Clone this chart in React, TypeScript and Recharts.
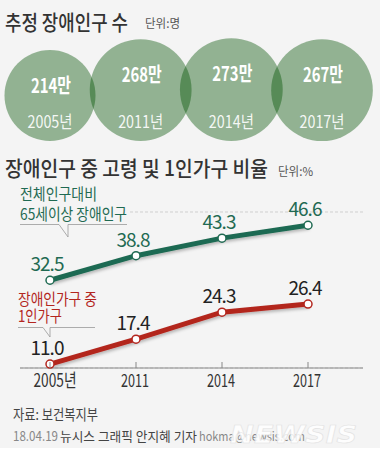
import React from 'react'
import {
  ScatterChart,
  Scatter,
  LineChart,
  Line,
  XAxis,
  YAxis,
  ZAxis,
  CartesianGrid,
  LabelList,
} from 'recharts'

const FONT = '"Noto Sans CJK KR", "Noto Sans", sans-serif'

// 추정 장애인구 수 (만명)
const popYears = ['2005년', '2011년', '2014년', '2017년']
const popValues = [214, 268, 273, 267]

// 장애인구 중 고령 및 1인가구 비율 (%)
const rateYears = ['2005년', '2011', '2014', '2017']
const elderlyRate = [32.5, 38.8, 43.3, 46.6]
const singleRate = [11.0, 17.4, 24.3, 26.4]
const scaleTicks = [0, 10, 20, 30, 40, 50]

const GREEN = '#1f6a52'
const RED = '#b3261e'

const popData = popYears.map((year, i) => ({ year, pop: popValues[i] }))
const rateData = rateYears.map((year, i) => ({
  year,
  elderly: elderlyRate[i],
  single: singleRate[i],
}))

// circle sits on the baseline, area follows the value
function Bubble(props: any) {
  const { cx, cy, size, payload } = props
  const r = Math.sqrt(size / Math.PI)
  return (
    <g>
      <circle cx={cx} cy={cy - r} r={r} fill="#004f00" fillOpacity={0.4} />
      <text
        x={cx + 1}
        y={cy - 2 * r + 43}
        textAnchor="middle"
        fontSize={20}
        fontWeight={700}
        fill="#fff"
        textLength={40}
        lengthAdjust="spacingAndGlyphs"
        fontFamily={FONT}
      >
        {payload.pop}만
      </text>
      <text
        x={cx}
        y={cy - 13}
        textAnchor="middle"
        fontSize={17}
        fill="#fff"
        fillOpacity={0.92}
        textLength={45}
        lengthAdjust="spacingAndGlyphs"
        fontFamily={FONT}
      >
        {payload.year}
      </text>
    </g>
  )
}

function YearTick(props: any) {
  const { x, y, payload } = props
  const label: string = payload.value
  const width = label.length === 5 ? 43 : 28
  return (
    <g>
      <line x1={x} y1={y - 6} x2={x} y2={y} stroke="#888" />
      <text
        x={label.length === 5 ? x + 5 : x - 1}
        y={y + 19}
        textAnchor="middle"
        fontSize={18}
        fill="#333"
        textLength={width}
        lengthAdjust="spacingAndGlyphs"
        fontFamily={FONT}
      >
        {label}
      </text>
    </g>
  )
}

function ScaleTick(props: any) {
  const { x, y, payload } = props
  const label = String(payload.value)
  return (
    <text
      x={x - 4}
      y={y - 1}
      fontSize={15}
      fill="#aaa"
      fontWeight={300}
      textLength={label.length * 5}
      lengthAdjust="spacingAndGlyphs"
      fontFamily={FONT}
    >
      {label}
    </text>
  )
}

function makeValueLabel(color: string) {
  return (props: any) => {
    const { x, y, value } = props
    return (
      <text
        x={x - 3}
        y={y - 9}
        textAnchor="middle"
        fontSize={19}
        letterSpacing={-1}
        fill={color}
        fontFamily={FONT}
      >
        {Number(value).toFixed(1)}
      </text>
    )
  }
}

export default function App() {
  return (
    <div
      style={{
        position: 'relative',
        width: 380,
        height: 462,
        background: '#fff',
        fontFamily: FONT,
      }}
    >
      <style>{'body{margin:0}'}</style>
      <div style={{ position: 'absolute', left: 0, top: 0, width: 380, height: 448, background: '#f4f4f4' }} />

      <svg width={0} height={0} style={{ position: 'absolute' }}>
        <defs>
          <filter id="lineShadow" x="-10%" y="-30%" width="120%" height="160%">
            <feDropShadow dx="1" dy="2" stdDeviation="1.5" floodColor="#000" floodOpacity="0.25" />
          </filter>
        </defs>
      </svg>

      {/* 추정 장애인구 수 */}
      <div style={{ position: 'absolute', left: 0, top: 0 }}>
        <ScatterChart width={380} height={150} margin={{ top: 0, right: 0, bottom: 9, left: 0 }}>
          <XAxis
            dataKey="year"
            type="category"
            scale="point"
            allowDuplicatedCategory={false}
            padding={{ left: 50, right: 58 }}
            hide
          />
          <YAxis dataKey={() => 0} type="number" domain={[0, 1]} hide />
          <ZAxis dataKey="pop" type="number" domain={[0, 300]} range={[0, 9120]} />
          <Scatter data={popData} shape={Bubble} isAnimationActive={false} />
        </ScatterChart>
      </div>

      {/* 장애인구 중 고령 및 1인가구 비율 */}
      <div style={{ position: 'absolute', left: 0, top: 190 }}>
        <LineChart width={380} height={220} data={rateData} margin={{ top: 22, right: 0, bottom: 12, left: 20 }}>
          <CartesianGrid
            yAxisId="scale"
            vertical={false}
            stroke="#cfcfcf"
            strokeDasharray="3 2"
          />
          <XAxis
            dataKey="year"
            scale="point"
            padding={{ left: 30, right: 55 }}
            axisLine={{ stroke: '#888' }}
            tickLine={false}
            tickSize={0}
            tickMargin={0}
            tick={<YearTick />}
            height={30}
          />
          <YAxis yAxisId="rate" domain={[10, 50]} hide />
          <YAxis
            yAxisId="scale"
            orientation="right"
            domain={[0, 50]}
            ticks={scaleTicks}
            axisLine={false}
            tickLine={false}
            tickSize={0}
            tickMargin={0}
            width={17}
            tick={<ScaleTick />}
          />
          <Line
            yAxisId="rate"
            dataKey="elderly"
            stroke={GREEN}
            strokeWidth={5}
            filter="url(#lineShadow)"
            dot={{ r: 4, fill: '#fff', stroke: GREEN, strokeWidth: 1.5, filter: 'none' }}
            isAnimationActive={false}
          >
            <LabelList dataKey="elderly" content={makeValueLabel(GREEN)} />
          </Line>
          <Line
            yAxisId="rate"
            dataKey="single"
            stroke={RED}
            strokeWidth={5}
            filter="url(#lineShadow)"
            dot={{ r: 4, fill: '#fff', stroke: RED, strokeWidth: 1.5, filter: 'none' }}
            isAnimationActive={false}
          >
            <LabelList dataKey="single" content={makeValueLabel('#222')} />
          </Line>
        </LineChart>
      </div>

      {/* titles, notes and credits */}
      <svg
        width={380}
        height={462}
        style={{ position: 'absolute', left: 0, top: 0, pointerEvents: 'none' }}
        fontFamily={FONT}
      >
        <text x={5} y={30} fontSize={21} fontWeight={500} fill="#333" textLength={123} lengthAdjust="spacingAndGlyphs">
          추정 장애인구 수
        </text>
        <text x={145} y={28} fontSize={12} fill="#555" textLength={35} lengthAdjust="spacingAndGlyphs">
          단위:명
        </text>

        <text x={5} y={176} fontSize={21} fontWeight={500} fill="#333" textLength={263} lengthAdjust="spacingAndGlyphs">
          장애인구 중 고령 및 1인가구 비율
        </text>
        <text x={278} y={176} fontSize={12} fill="#555" textLength={35} lengthAdjust="spacingAndGlyphs">
          단위:%
        </text>

        <rect x={18} y={205} width={112} height={16} fill="#f4f4f4" />
        <text x={20} y={200} fontSize={16} fill={GREEN} textLength={77} lengthAdjust="spacingAndGlyphs">
          전체인구대비
        </text>
        <text x={20} y={220} fontSize={16} fill={GREEN} textLength={107} lengthAdjust="spacingAndGlyphs">
          65세이상 장애인구
        </text>
        <g stroke="#999" strokeWidth={0.8} fill="none">
          <polyline points="20,224.5 59,224.5 68,237 68,224.5 127,224.5" />
        </g>

        <text x={18} y={305} fontSize={16} fill={RED} textLength={79} lengthAdjust="spacingAndGlyphs">
          장애인가구 중
        </text>
        <text x={18} y={322} fontSize={16} fill={RED} textLength={44} lengthAdjust="spacingAndGlyphs">
          1인가구
        </text>
        <g stroke="#999" strokeWidth={0.8} fill="none">
          <polyline points="18,327.5 43,327.5 50,337 50,327.5 95,327.5" />
        </g>

        <text x={13} y={420} fontSize={15} fill="#444" textLength={85} lengthAdjust="spacingAndGlyphs">
          자료: 보건복지부
        </text>
        <text x={13} y={441} fontSize={13} fill="#888" textLength={45} lengthAdjust="spacingAndGlyphs">
          18.04.19
        </text>
        <text x={60} y={441} fontSize={13} fill="#444" textLength={137} lengthAdjust="spacingAndGlyphs">
          뉴시스 그래픽 안지혜 기자
        </text>
        <text x={199} y={441} fontSize={13} fill="#888" textLength={106} lengthAdjust="spacingAndGlyphs">
          hokma@newsis.com
        </text>
        <text
          x={230}
          y={443}
          fontSize={24}
          fontWeight={700}
          fontStyle="italic"
          fill="#fff"
          fillOpacity={0.85}
          stroke="#e2e2e2"
          strokeWidth={0.6}
          textLength={127}
          lengthAdjust="spacingAndGlyphs"
          fontFamily="'DejaVu Sans', sans-serif"
        >
          NEWSIS
        </text>
      </svg>
    </div>
  )
}
